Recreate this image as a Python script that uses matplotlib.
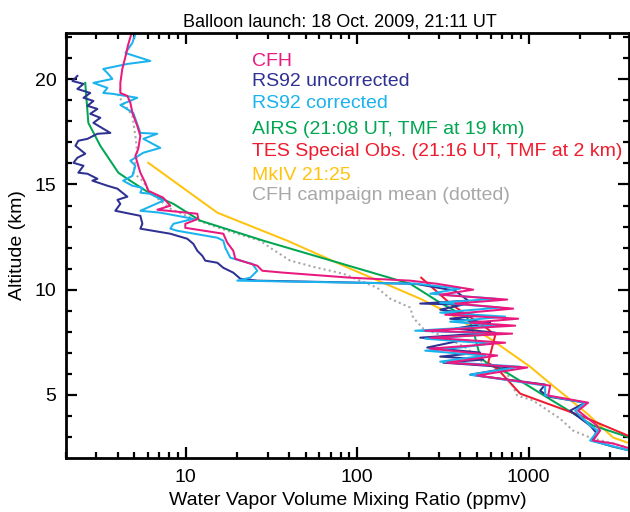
import matplotlib
matplotlib.use("Agg")
import matplotlib.pyplot as plt
from matplotlib.ticker import FixedLocator, NullFormatter, LogLocator

plt.rcParams['font.family'] = ['Liberation Sans', 'DejaVu Sans']

# ---------------- data (ppmv, km) ----------------
cfh_x = [4.81, 4.59, 4.50, 4.26, 4.15, 4.15, 4.56, 4.75, 4.88, 5.21, 5.43, 5.28, 5.08, 5.28, 5.43, 5.80, 6.04,
         7.39, 8.12, 6.82, 11.67, 11.83, 9.93, 9.93, 16.55, 17.46, 18.92, 19.44, 22.84, 26.12, 27.93, 37.03,
         91.0, 203.7, 292.8, 474.8, 304.8, 749.3, 372.8, 812.1, 326.0, 868.6, 456.0, 834.3, 249.2, 801.3,
         266.6, 729.5, 456.0, 266.6, 655.2, 334.8, 980.2, 501.0, 1335, 1300, 2223, 1944, 2508, 2611, 2377,
         3110, 3907]
cfh_y = [22.16, 21.59, 21.25, 20.49, 19.83, 19.35, 19.21, 18.88, 18.40, 17.79, 17.31, 16.70, 16.36, 15.89,
         15.56, 15.08, 14.70, 14.37, 13.99, 13.80, 13.61, 13.37, 13.13, 12.94, 12.66, 12.23, 11.85, 11.47,
         11.28, 11.14, 10.90, 10.81, 10.57, 10.43, 10.28, 10.00, 9.76, 9.53, 9.34, 9.10, 8.81, 8.62, 8.43,
         8.29, 8.05, 7.91, 7.72, 7.48, 7.34, 7.20, 6.87, 6.53, 6.30, 5.92, 5.44, 4.97, 4.63, 4.25, 3.54,
         3.30, 2.83, 2.69, 2.45]

rs_unc_x = [2.33, 2.18, 2.53, 2.33, 2.77, 2.53, 2.89, 2.67, 3.05, 2.77, 3.17, 2.89, 3.63, 3.05, 2.67, 2.36,
            2.27, 2.59, 2.33, 2.21, 2.53, 2.36, 2.67, 3.05, 2.85, 3.49, 3.99, 4.56, 3.99, 4.15, 3.88, 5.43,
            5.58, 5.43, 8.12, 10.2, 11.06, 11.67, 12.48, 12.99, 15.27, 16.55, 18.92, 20.79, 26.12, 217.9,
            372.8, 443.8, 233.0, 415.0, 304.8, 507.6, 348.5, 596.4, 372.8, 637.8, 233.0, 398.6, 256.0,
            521.4, 304.8, 542.8, 317.6, 801.3, 456.0, 1248, 1167, 1300, 2135, 1746, 2284, 2475, 2345,
            3068, 3907]
rs_unc_y = [20.16, 19.92, 19.78, 19.54, 19.35, 19.12, 18.97, 18.74, 18.59, 18.36, 18.17, 17.93, 17.45,
            17.41, 17.17, 17.08, 16.84, 16.46, 16.27, 16.03, 15.89, 15.56, 15.51, 15.27, 15.18, 14.94,
            14.80, 14.42, 14.27, 14.08, 13.75, 13.51, 13.13, 12.90, 12.66, 12.42, 12.18, 11.85, 11.61,
            11.38, 11.28, 11.04, 10.81, 10.52, 10.43, 10.28, 9.95, 9.48, 9.34, 9.29, 9.05, 8.77, 8.62,
            8.43, 8.15, 7.96, 7.72, 7.58, 7.25, 7.01, 6.82, 6.68, 6.53, 6.30, 5.96, 5.49, 5.20, 4.92,
            4.63, 4.25, 3.54, 3.21, 2.83, 2.55, 2.35]

rs_cor_x = [5.08, 4.88, 4.44, 6.21, 4.56, 3.30, 3.49, 3.73, 2.89, 3.49, 3.30, 3.73, 5.21, 4.15, 4.94, 5.43,
            6.82, 5.65, 7.10, 5.65, 4.75, 5.08, 4.88, 4.31, 4.88, 5.58, 5.43, 6.21, 7.39, 5.43, 7.10,
            11.06, 8.46, 8.12, 8.92, 15.27, 16.55, 17.0, 18.18, 20.79, 24.42, 26.12, 23.77, 19.96, 223.8,
            398.6, 266.6, 637.8, 304.8, 682.1, 304.8, 729.5, 348.5, 682.1, 217.9, 682.1, 249.2, 596.4,
            398.6, 249.2, 557.8, 304.8, 892.3, 456.0, 1248, 1248, 2135, 1867, 2284, 2542, 2284, 2988, 3907]
rs_cor_y = [22.16, 21.73, 21.25, 20.87, 20.73, 20.49, 20.30, 20.02, 19.83, 19.59, 19.35, 19.31, 19.12,
            18.78, 18.40, 17.45, 17.41, 17.17, 16.74, 16.51, 16.13, 15.89, 15.41, 15.18, 14.94, 14.84,
            14.61, 14.56, 14.23, 13.75, 13.66, 13.37, 13.13, 12.90, 12.80, 12.47, 12.33, 11.99, 11.52,
            11.38, 11.23, 10.90, 10.57, 10.43, 10.28, 10.05, 9.81, 9.57, 9.38, 9.15, 8.91, 8.72, 8.48,
            8.29, 8.05, 7.91, 7.67, 7.44, 7.25, 7.10, 6.87, 6.58, 6.34, 5.96, 5.44, 4.97, 4.63, 4.25,
            3.54, 3.30, 2.83, 2.59, 2.35]

airs_x = [2.59, 2.70, 3.17, 4.04, 4.56, 6.21, 8.46, 12.15, 28.31, 203.7, 304.8, 437.8, 456.0, 487.5,
          523.0, 596.4, 682.1, 2377, 3907]
airs_y = [19.83, 17.93, 16.84, 15.56, 15.27, 14.56, 14.08, 13.28, 12.33, 10.28, 9.38, 8.67, 8.43, 7.72,
          6.77, 6.39, 6.25, 3.54, 2.97]

tes_x = [236.2, 348.5, 573.1, 637.8, 580.7, 655.2, 892.3, 1282, 2000, 3907]
tes_y = [10.57, 9.34, 8.15, 7.82, 6.53, 6.25, 5.06, 4.59, 4.02, 3.02]

mkiv_x = [6.04, 15.27, 39.07, 91.0, 233.0, 348.5, 596.4, 1020, 1215, 2194, 3110, 3907]
mkiv_y = [16.03, 13.66, 12.33, 11.0, 9.57, 8.86, 7.67, 6.34, 5.82, 4.11, 2.97, 2.69]

mean_x = [4.15, 4.04, 4.44, 4.88, 5.08, 5.21, 4.94, 5.58, 6.21, 7.10, 8.12, 11.06, 17.46, 27.19, 31.1,
          40.68, 58.47, 82.87, 130.8, 155.7, 203.7, 212.1, 242.6, 334.8, 437.8, 523.0, 749.3, 857.0,
          1062, 1527, 1818, 2284, 3110, 3752]
mean_y = [19.54, 19.21, 18.74, 18.26, 17.31, 16.51, 15.56, 15.18, 14.61, 14.23, 13.85, 13.37, 12.80,
          12.33, 11.99, 11.38, 11.04, 10.76, 10.09, 9.57, 9.15, 8.67, 8.15, 7.72, 7.20, 6.63, 6.01, 4.97,
          4.73, 3.87, 3.30, 2.97, 2.69, 2.50]

legend_labels = ["CFH", "RS92 uncorrected", "RS92 corrected", "AIRS (21:08 UT, TMF at 19 km)",
                 "TES Special Obs. (21:16 UT, TMF at 2 km)", "MkIV 21:25", "CFH campaign mean (dotted)"]
title = "Balloon launch: 18 Oct. 2009, 21:11 UT"

# ---------------- styles ----------------
c_cfh = "#E8197F"
c_unc = "#2E3192"
c_cor = "#1BB3EE"
c_airs = "#00A651"
c_tes = "#EE1C2E"
c_mkiv = "#FFC30F"
c_mean = "#A8A8A8"

fig = plt.figure(figsize=(6.3, 5.12), dpi=100)
ax = fig.add_axes([66/630, 1-458/512, (629-66)/630, (458-33)/512])

lw = 1.45
ax.plot(mean_x, mean_y, color=c_mean, lw=1.5, ls=(0, (1, 1.5)))
ax.plot(mkiv_x, mkiv_y, color=c_mkiv, lw=lw)
ax.plot(airs_x, airs_y, color=c_airs, lw=lw)
ax.plot(tes_x, tes_y, color=c_tes, lw=lw)
ax.plot(rs_unc_x, rs_unc_y, color=c_unc, lw=lw)
ax.plot(rs_cor_x, rs_cor_y, color=c_cor, lw=lw)
ax.plot(cfh_x, cfh_y, color=c_cfh, lw=lw)

ax.set_xscale('log')
ax.set_xlim(2.0, 3850)
ax.set_ylim(2.0, 22.2)

ax.xaxis.set_major_locator(FixedLocator([10, 100, 1000]))
ax.xaxis.set_minor_locator(LogLocator(base=10, subs=range(2, 10)))
ax.xaxis.set_minor_formatter(NullFormatter())
ax.set_xticklabels(["10", "100", "1000"])
ax.yaxis.set_major_locator(FixedLocator([5, 10, 15, 20]))
ax.yaxis.set_minor_locator(FixedLocator(list(range(3, 23))))

ax.tick_params(which='both', direction='in', top=True, right=True, labelsize=14, width=1.6, color='black')
ax.tick_params(which='major', length=8)
ax.tick_params(axis='x', which='major', pad=8)
ax.tick_params(axis='y', which='major', pad=7)
ax.tick_params(which='minor', length=4.5)
for s in ax.spines.values():
    s.set_linewidth(2.0)

ax.set_xlabel("Water Vapor Volume Mixing Ratio (ppmv)", fontsize=14, labelpad=4)
ax.set_ylabel("Altitude (km)", fontsize=14, labelpad=6)
ax.set_title(title, fontsize=13, pad=5, x=0.487)

leg_colors = [c_cfh, c_unc, c_cor, c_airs, c_tes, c_mkiv, c_mean]
leg_py = [61, 82, 104, 129, 152, 175, 196]
for lab, col, py in zip(legend_labels, leg_colors, leg_py):
    fig.text(252/630, 1-py/512, lab, color=col, fontsize=14, ha='left', va='center')

fig.savefig("out.png", dpi=100)
